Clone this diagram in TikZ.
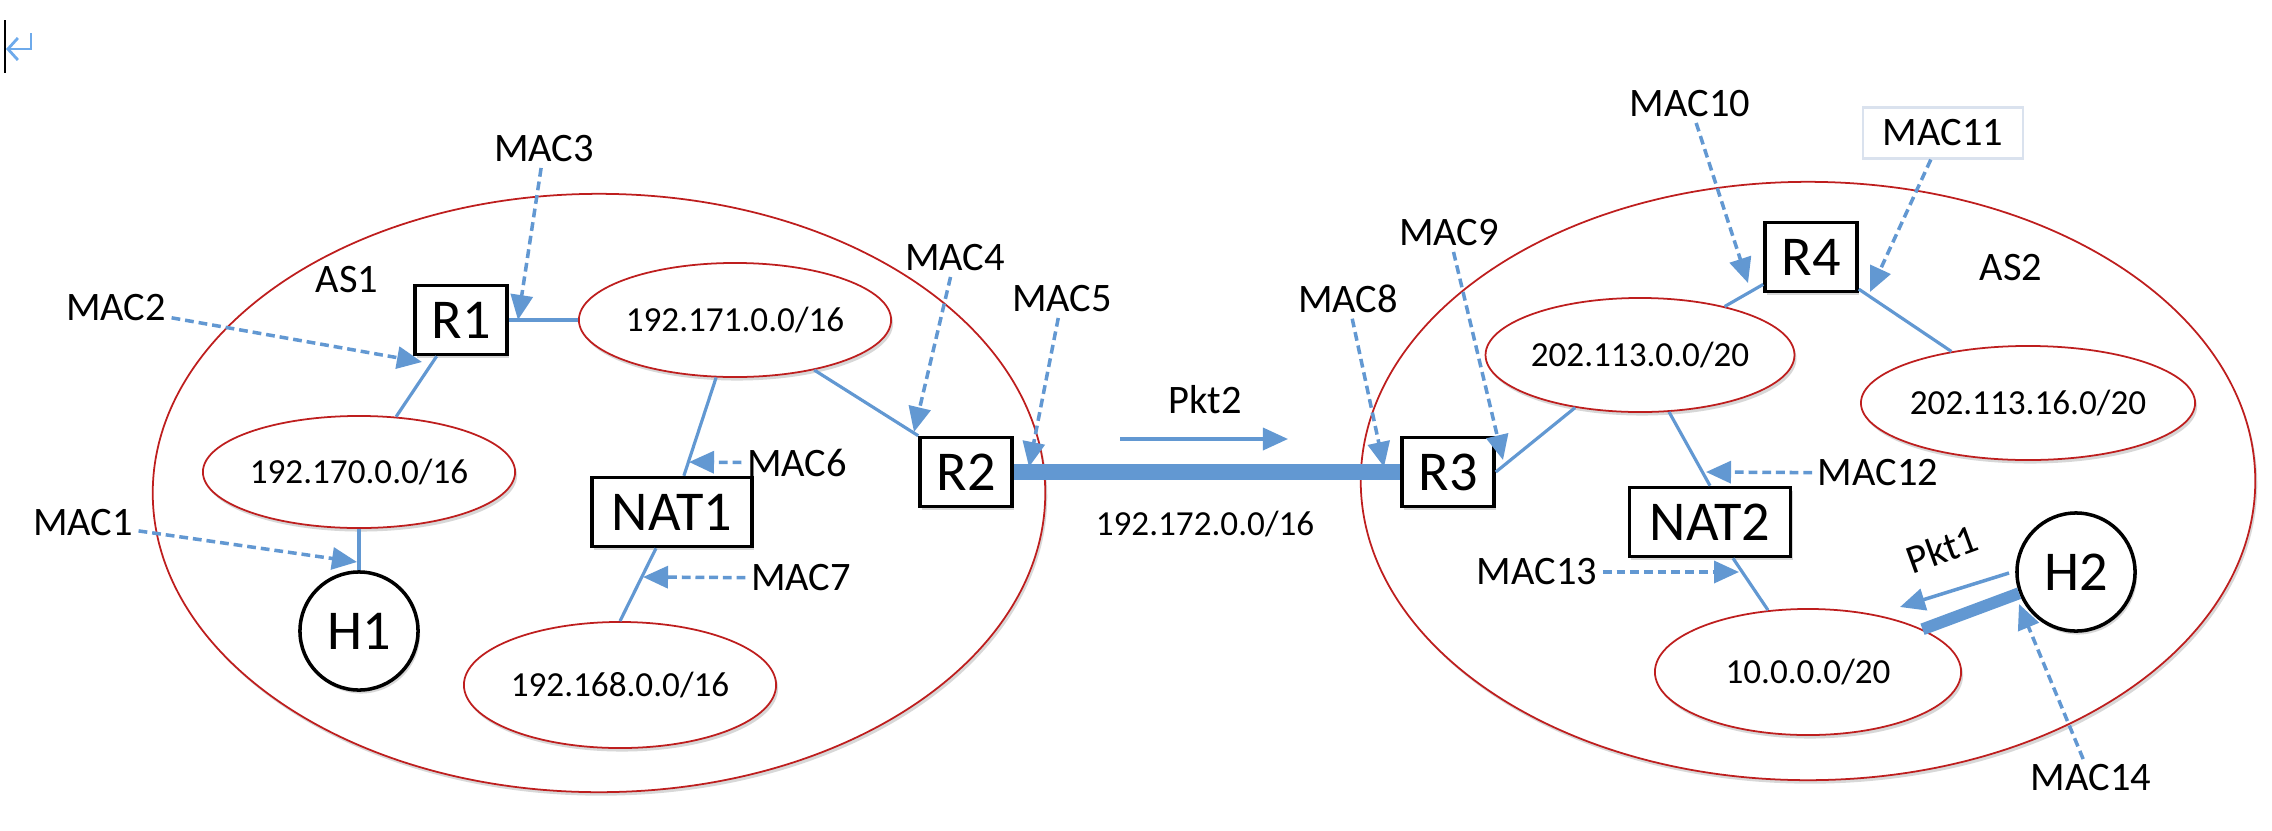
\documentclass[tikz,border=0pt]{standalone}
\usepackage{fontspec}
\setmainfont{Carlito}
\usetikzlibrary{arrows.meta,shapes.geometric,shadows,calc}
\definecolor{lnk}{RGB}{98,152,210}
\definecolor{netred}{RGB}{190,30,30}
\definecolor{curblue}{RGB}{110,170,235}
\definecolor{faintbox}{RGB}{218,226,238}
\tikzset{
  shad/.style={drop shadow={shadow xshift=0.02cm,shadow yshift=-0.035cm,opacity=0.22,fill=black!70}},
  asreg/.style={ellipse, draw=netred, line width=0.5pt, fill=white, inner sep=0pt, shad},
  net/.style={ellipse, draw=netred, line width=0.5pt, fill=white, inner sep=0pt, font=\fontsize{10}{12}\selectfont, shad},
  dev/.style={rectangle, draw=black, line width=1pt, fill=white, inner sep=0pt, minimum height=0.69cm, font=\fontsize{16}{19}\selectfont, shad},
  host/.style={circle, draw=black, line width=1pt, fill=white, minimum size=1.18cm, inner sep=0pt, font=\fontsize{16}{19}\selectfont, shad},
  lbl/.style={inner sep=0.05cm, font=\fontsize{11.5}{14}\selectfont},
  link/.style={draw=lnk, line width=0.9pt},
  biglink/.style={draw=lnk, line width=4.5pt},
  hostlink/.style={draw=lnk, line width=3.4pt},
  macarr/.style={draw=lnk, line width=1pt, dash pattern=on 2.5pt off 1.4pt, -{Triangle[length=0.25cm,width=0.22cm]}},
  pktarr/.style={draw=lnk, line width=1pt, -{Triangle[length=0.25cm,width=0.22cm]}},
}
\begin{document}
\begin{tikzpicture}[x=0.01cm,y=-0.01cm]
\useasboundingbox (0,0) rectangle (2272,830);
% editor artefacts
\draw[black, line width=0.6pt] (5,20) -- (5,73);
\draw[curblue, line width=0.8pt, -{Straight Barb[length=0.1cm,width=0.22cm]}] (31,33) -- (31,49) -- (6,49);
% autonomous systems
\node[asreg, minimum width=8.92cm, minimum height=5.98cm] (as1reg) at (599,493) {};
\node[asreg, minimum width=8.94cm, minimum height=5.98cm] (as2reg) at (1808,481) {};
\node[lbl] (as1) at (347,280) {AS1};
\node[lbl] (as2) at (2011,268) {AS2};
% AS1 nodes
\node[dev, minimum width=0.92cm] (r1) at (461,320) {R1};
\node[net, minimum width=3.12cm, minimum height=1.14cm] (n171) at (735,320) {192.171.0.0/16};
\node[net, minimum width=3.12cm, minimum height=1.12cm] (n170) at (359,472) {192.170.0.0/16};
\node[host] (h1) at (359,631) {H1};
\node[dev, minimum width=1.60cm] (nat1) at (672,512) {NAT1};
\node[net, minimum width=3.12cm, minimum height=1.26cm] (n168) at (620,685) {192.168.0.0/16};
\node[dev, minimum width=0.92cm] (r2) at (966,472) {R2};
% AS2 nodes
\node[dev, minimum width=0.92cm] (r3) at (1448,472) {R3};
\node[dev, minimum width=0.92cm] (r4) at (1811,257) {R4};
\node[net, minimum width=3.06cm, minimum height=1.14cm] (n113) at (1640,355) {202.113.0.0/20};
\node[net, minimum width=3.06cm, minimum height=1.14cm] (n16) at (2028,403) {202.113.16.0/20};
\node[dev, minimum width=1.61cm] (nat2) at (1710,522) {NAT2};
\node[net, minimum width=3.06cm, minimum height=1.26cm] (n10) at (1808,672) {10.0.0.0/20};
\node[host] (h2) at (2076,572) {H2};
% links
\draw[link] (r1) -- (n171);
\draw[link] (r1) -- (n170);
\draw[link] (n170.south) -- (h1.north);
\draw[link] (n171) -- (nat1);
\draw[link] ([xshift=-0.16cm]nat1.south) -- (n168.north);
\draw[link] (n171) -- (r2.north west);
\draw[biglink] (r2.east) -- (r3.west);
\draw[link] (r3.east) -- (n113);
\draw[link] (r4) -- (n113);
\draw[link] (r4) -- (n16);
\draw[link] ([xshift=0.29cm,yshift=0.01cm]n113.south) -- (nat2.north);
\draw[link] ([xshift=0.23cm]nat2.south) -- ([xshift=-0.40cm,yshift=-0.02cm]n10.north);
\draw[hostlink] (n10) -- (h2);
% link labels and packets
\node[lbl] (net172) at (1205,524) {\fontsize{10}{12}\selectfont 192.172.0.0/16};
\node[lbl] (pkt2) at (1205,400) {Pkt2};
\coordinate (p2a) at (1120,439);
\coordinate (p2b) at (1288,439);
\draw[pktarr] (p2a) -- (p2b);
\node[lbl, rotate=20] (pkt1) at (1942,549) {Pkt1};
\coordinate (p1a) at (2009,573);
\coordinate (p1b) at (1900,607);
\draw[pktarr] (p1a) -- (p1b);
% MAC labels
\node[lbl] (mac1) at (83,523) {MAC1};
\node[lbl] (mac2) at (116,308) {MAC2};
\node[lbl] (mac3) at (544,149) {MAC3};
\node[lbl] (mac4) at (955,258) {MAC4};
\node[lbl] (mac5) at (1062,299) {MAC5};
\node[lbl] (mac6) at (797,463) {MAC6};
\node[lbl] (mac7) at (801,578) {MAC7};
\node[lbl] (mac8) at (1348,299) {MAC8};
\node[lbl] (mac9) at (1449,233) {MAC9};
\node[lbl] (mac10) at (1690,104) {MAC10};
\node[lbl, draw=faintbox, line width=0.6pt, minimum width=1.60cm, minimum height=0.51cm] (mac11) at (1943,133) {MAC11};
\node[lbl] (mac12) at (1878,473) {MAC12};
\node[lbl] (mac13) at (1537,572) {MAC13};
\node[lbl] (mac14) at (2091,778) {MAC14};
% interface points
\coordinate (t1) at (357,562);
\coordinate (t2) at (422,362);
\coordinate (t3) at (518,320);
\coordinate (t4) at (914,432);
\coordinate (t5) at (1029,467);
\coordinate (t6) at (689,462);
\coordinate (t7) at (643,577);
\coordinate (t8) at (1384,467);
\coordinate (t9) at (1503,460);
\coordinate (t10) at (1748,283);
\coordinate (t11) at (1870,292);
\coordinate (t12) at (1706,472);
\coordinate (t13) at (1739,572);
\coordinate (t14) at (2019,604);
% MAC arrows
\draw[macarr] (mac1) -- (t1);
\draw[macarr] (mac2) -- (t2);
\draw[macarr] (mac3) -- (t3);
\draw[macarr] (mac4) -- (t4);
\draw[macarr] (mac5) -- (t5);
\draw[macarr] (mac6) -- (t6);
\draw[macarr] (mac7) -- (t7);
\draw[macarr] (mac8) -- (t8);
\draw[macarr] (mac9) -- (t9);
\draw[macarr] (mac10) -- (t10);
\draw[macarr] (mac11) -- (t11);
\draw[macarr] (mac12) -- (t12);
\draw[macarr] (mac13) -- (t13);
\draw[macarr] (mac14) -- (t14);
\end{tikzpicture}
\end{document}
